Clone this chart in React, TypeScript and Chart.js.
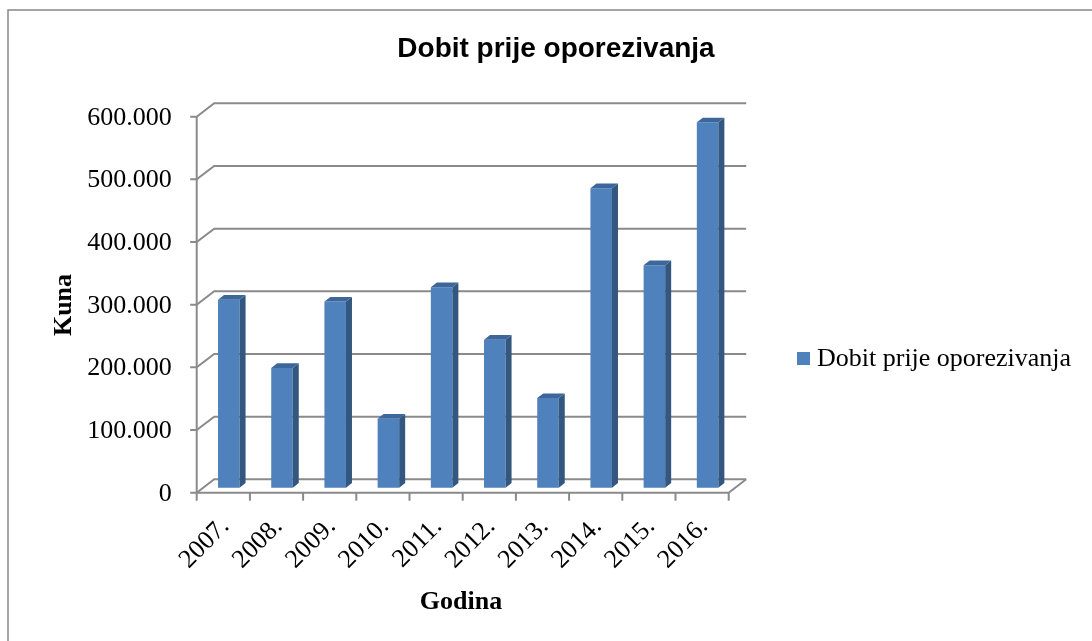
import React, { useEffect, useRef } from "react";
import { Chart, registerables } from "chart.js";

Chart.register(...registerables);

// ---- data ----
const categories = ["2007.", "2008.", "2009.", "2010.", "2011.", "2012.", "2013.", "2014.", "2015.", "2016."];
const values = [300000, 191000, 297000, 110000, 320000, 236000, 143000, 478000, 355000, 583000];
const yTickValues = [0, 100000, 200000, 300000, 400000, 500000, 600000];
const yTickLabels = ["0", "100.000", "200.000", "300.000", "400.000", "500.000", "600.000"];
const seriesName = "Dobit prije oporezivanja";
const chartTitle = "Dobit prije oporezivanja";
const xAxisTitle = "Godina";
const yAxisTitle = "Kuna";

// ---- styling ----
const W = 1092;
const H = 641;
const DEPTH_X = 17.5;
const DEPTH_Y = -13.4;
const BAR_DX = 5.5;
const BAR_DY = -5;
const FACE_DX = 6;
const FACE_DY = -4.7;
const FRONT = "#4F81BD";
const SIDE = "#34577F";
const TOP = "#3D669B";
const GRID = "#8a8a8a";
const SERIF = "'Liberation Serif', 'Times New Roman', serif";
const SANS = "'Liberation Sans', Arial, sans-serif";

const threeD = {
  id: "threeD",
  beforeDatasetsDraw(chart: any) {
    const ctx = chart.ctx as CanvasRenderingContext2D;
    const xs = chart.scales.x;
    const ys = chart.scales.y;
    const L = chart.chartArea.left;
    const R = chart.chartArea.right;
    const B = ys.getPixelForValue(0);
    const T = ys.getPixelForValue(yTickValues[yTickValues.length - 1]);

    ctx.save();
    // outer frame (top & left visible)
    ctx.strokeStyle = "#878787";
    ctx.lineWidth = 1.5;
    ctx.beginPath();
    ctx.moveTo(8, H + 2);
    ctx.lineTo(8, 10);
    ctx.lineTo(W + 2, 10);
    ctx.stroke();

    // back wall gridlines with side-wall diagonals and front ticks
    ctx.strokeStyle = GRID;
    ctx.lineWidth = 2;
    ctx.lineJoin = "miter";
    yTickValues.forEach((v) => {
      const py = ys.getPixelForValue(v);
      ctx.beginPath();
      ctx.moveTo(L - 6.5, py);
      ctx.lineTo(L, py);
      ctx.lineTo(L + DEPTH_X, py + DEPTH_Y);
      ctx.lineTo(R + DEPTH_X, py + DEPTH_Y);
      ctx.stroke();
    });
    // front vertical axis
    ctx.beginPath();
    ctx.moveTo(L, T);
    ctx.lineTo(L, B);
    ctx.stroke();
    // front horizontal axis + floor right edge
    ctx.beginPath();
    ctx.moveTo(L, B);
    ctx.lineTo(R, B);
    ctx.lineTo(R + DEPTH_X, B + DEPTH_Y);
    ctx.stroke();
    // category boundary ticks
    const n = categories.length;
    for (let i = 0; i <= n; i++) {
      let bx: number;
      if (i === 0) bx = L;
      else if (i === n) bx = R;
      else bx = (xs.getPixelForValue(i - 1) + xs.getPixelForValue(i)) / 2;
      ctx.beginPath();
      ctx.moveTo(bx, B);
      ctx.lineTo(bx, B + 8);
      ctx.stroke();
    }

    // y tick labels
    ctx.fillStyle = "#000";
    ctx.font = `26px ${SERIF}`;
    ctx.textAlign = "right";
    ctx.textBaseline = "middle";
    yTickValues.forEach((v, i) => {
      ctx.fillText(yTickLabels[i], L - 25, ys.getPixelForValue(v) + 1);
    });

    // x tick labels (rotated)
    categories.forEach((c, i) => {
      ctx.save();
      ctx.translate(xs.getPixelForValue(i) + 2, B + 30);
      ctx.rotate(-Math.PI / 4);
      ctx.textAlign = "right";
      ctx.textBaseline = "middle";
      ctx.fillText(c, 0, 0);
      ctx.restore();
    });

    // axis titles
    ctx.font = `bold 26px ${SERIF}`;
    ctx.textAlign = "center";
    ctx.textBaseline = "alphabetic";
    ctx.fillText(xAxisTitle, 461, 609);
    ctx.save();
    ctx.translate(71, 305);
    ctx.rotate(-Math.PI / 2);
    ctx.fillText(yAxisTitle, 0, 0);
    ctx.restore();

    // chart title
    ctx.font = `bold 28px ${SANS}`;
    ctx.fillText(chartTitle, 556, 57);

    // legend
    ctx.fillStyle = FRONT;
    ctx.fillRect(797, 352, 13, 13);
    ctx.fillStyle = "#000";
    ctx.font = `26px ${SERIF}`;
    ctx.textAlign = "left";
    ctx.fillText(seriesName, 817, 366);
    ctx.restore();

    // shift bars into mid-depth
    ctx.save();
    ctx.translate(BAR_DX, BAR_DY);
  },
  afterDatasetsDraw(chart: any) {
    const ctx = chart.ctx as CanvasRenderingContext2D;
    const meta = chart.getDatasetMeta(0);
    meta.data.forEach((bar: any) => {
      const p = bar.getProps(["x", "y", "base", "width"], true);
      const left = p.x - p.width / 2;
      const right = p.x + p.width / 2;
      ctx.fillStyle = SIDE;
      ctx.beginPath();
      ctx.moveTo(right, p.y);
      ctx.lineTo(right + FACE_DX, p.y + FACE_DY);
      ctx.lineTo(right + FACE_DX, p.base + FACE_DY);
      ctx.lineTo(right, p.base);
      ctx.closePath();
      ctx.fill();
      ctx.fillStyle = TOP;
      ctx.beginPath();
      ctx.moveTo(left, p.y);
      ctx.lineTo(left + FACE_DX, p.y + FACE_DY);
      ctx.lineTo(right + FACE_DX, p.y + FACE_DY);
      ctx.lineTo(right, p.y);
      ctx.closePath();
      ctx.fill();
    });
    ctx.restore();
  },
};

export default function App() {
  const ref = useRef<HTMLCanvasElement | null>(null);
  useEffect(() => {
    if (!ref.current) return;
    const chart = new Chart(ref.current, {
      type: "bar",
      data: {
        labels: categories,
        datasets: [
          {
            label: seriesName,
            data: values,
            backgroundColor: FRONT,
            borderWidth: 0,
            barPercentage: 0.405,
            categoryPercentage: 1,
            clip: false as any,
          },
        ],
      },
      options: {
        responsive: false,
        animation: false,
        devicePixelRatio: 1,
        layout: { padding: { left: 196.7, right: W - 728.7, top: 116.7, bottom: H - 492.7 } },
        scales: {
          x: { display: false, offset: true },
          y: { display: false, min: 0, max: 600000 },
        },
        plugins: {
          legend: { display: false },
          title: { display: false },
          tooltip: { enabled: false },
        },
      },
      plugins: [threeD],
    });
    return () => chart.destroy();
  }, []);
  return (
    <div style={{ position: "fixed", left: 0, top: 0, width: W, height: H, background: "#fff" }}>
      <canvas ref={ref} width={W} height={H} style={{ display: "block", width: W, height: H }} />
    </div>
  );
}
